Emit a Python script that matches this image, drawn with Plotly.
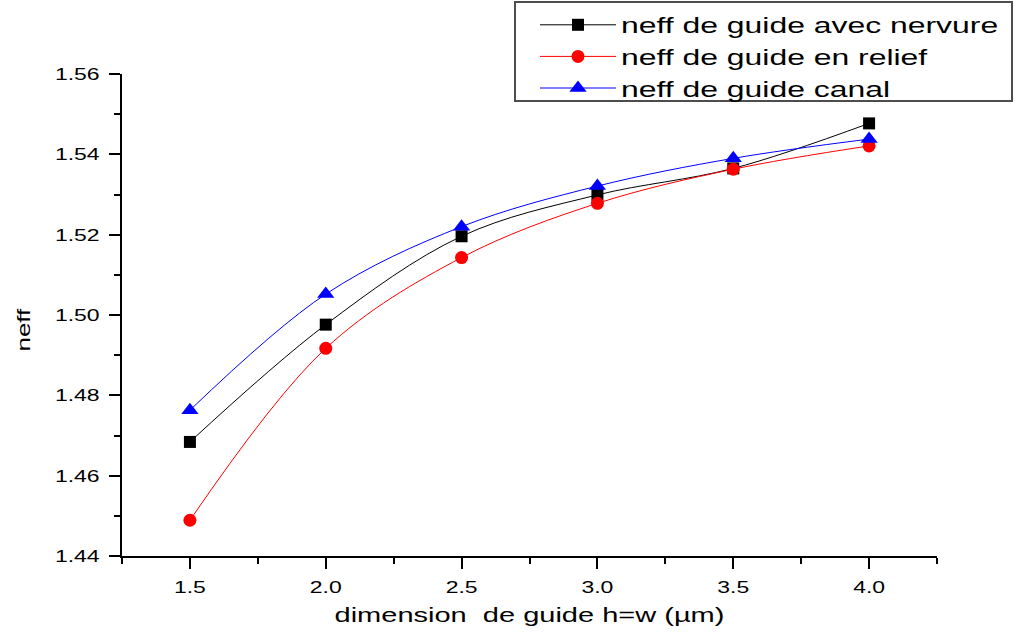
import plotly.graph_objects as go

# Guide dimension h = w (µm)
dimension = [1.5, 2.0, 2.5, 3.0, 3.5, 4.0]

# Effective index for each guide type
neff_nervure = [1.4684, 1.4976, 1.5196, 1.5299, 1.5365, 1.5477]
neff_relief = [1.4489, 1.4917, 1.5143, 1.5278, 1.5363, 1.5421]
neff_canal = [1.4763, 1.5052, 1.5220, 1.5321, 1.5390, 1.5438]

series_names = [
    "neff de guide avec nervure",
    "neff de guide en relief",
    "neff de guide canal",
]

x_ticks = [1.5, 2.0, 2.5, 3.0, 3.5, 4.0]
x_tick_labels = ["1.5", "2.0", "2.5", "3.0", "3.5", "4.0"]
y_ticks = [1.44, 1.46, 1.48, 1.50, 1.52, 1.54, 1.56]
y_tick_labels = ["1.44", "1.46", "1.48", "1.50", "1.52", "1.54", "1.56"]

FONT = "Liberation Sans, Arial, sans-serif"

# Plot area in pixels: left 122, right 937, top 74, bottom 556
W, H = 1015, 635
ML, MR, MT, MB = 122, 78, 74, 79
PW, PH = W - ML - MR, H - MT - MB


def px_to_paper_x(px):
    return (px - ML) / PW


def px_to_paper_y(py):
    return 1 - (py - MT) / PH


fig = go.Figure()

styles = [
    (neff_nervure, "black", "square", 12),
    (neff_relief, "red", "circle", 13),
    (neff_canal, "blue", "triangle-up", 15),
]

for name, (vals, color, symbol, size) in zip(series_names, styles):
    fig.add_trace(go.Scatter(
        x=dimension,
        y=vals,
        name=name,
        mode="lines+markers",
        line=dict(color=color, width=1, shape="spline", smoothing=1.0),
        marker=dict(color=color, symbol=symbol, size=size, line=dict(width=0)),
    ))

axis_common = dict(
    showgrid=False,
    zeroline=False,
    showline=True,
    linecolor="black",
    linewidth=2,
    ticks="outside",
    ticklen=11,
    tickwidth=2,
    tickcolor="black",
    tickfont=dict(family=FONT, size=17, color="black"),
    mirror=False,
)

fig.update_xaxes(
    **axis_common,
    range=[1.25, 4.25],
    tickvals=x_ticks,
    ticktext=x_tick_labels,
    ticklabelstandoff=4,
    minor=dict(ticks="outside", ticklen=6, tickwidth=2, tickcolor="black",
               tick0=1.25, dtick=0.5, showgrid=False),
    title=dict(text="dimension  de guide h=w (µm)",
               font=dict(family=FONT, size=20, color="black"), standoff=12),
)

fig.update_yaxes(
    **axis_common,
    range=[1.44, 1.56],
    tickvals=y_ticks,
    ticktext=y_tick_labels,
    ticklabelstandoff=6,
    minor=dict(ticks="outside", ticklen=6, tickwidth=2, tickcolor="black",
               tick0=1.45, dtick=0.02, showgrid=False),
)

# Y-axis title, placed a little below the middle of the axis
fig.add_annotation(
    text="neff", textangle=-90, showarrow=False,
    xref="paper", yref="paper",
    x=px_to_paper_x(24), y=px_to_paper_y(330),
    xanchor="center", yanchor="middle",
    font=dict(family=FONT, size=18, color="black"),
)

# Legend frame
fig.add_shape(
    type="rect", xref="paper", yref="paper",
    x0=px_to_paper_x(515), x1=px_to_paper_x(1012),
    y0=px_to_paper_y(101), y1=px_to_paper_y(2),
    line=dict(color="#4d4d4d", width=2), fillcolor="white", layer="below",
)

fig.update_layout(
    width=W,
    height=H,
    margin=dict(l=ML, r=MR, t=MT, b=MB, autoexpand=False),
    paper_bgcolor="white",
    plot_bgcolor="rgba(0,0,0,0)",
    font=dict(family=FONT, color="black"),
    legend=dict(
        x=px_to_paper_x(535), y=px_to_paper_y(4), xanchor="left", yanchor="top",
        bgcolor="rgba(0,0,0,0)",
        borderwidth=0,
        font=dict(family=FONT, size=22, color="black"),
        itemwidth=76,
        tracegroupgap=0,
    ),
    showlegend=True,
)

# Widen the lettering along its baseline (wide Arial-style text)
stretch_js = """
var gd = document.getElementById('{plot_id}');
function widen(sel, k) {
  gd.querySelectorAll(sel).forEach(function (t) {
    var w = t.getComputedTextLength();
    if (w > 0) {
      t.setAttribute('textLength', (w * k).toFixed(1));
      t.setAttribute('lengthAdjust', 'spacingAndGlyphs');
    }
  });
}
widen('.xtick text', 1.35);
widen('.ytick text', 1.35);
widen('.g-xtitle text', 1.45);
widen('.annotation-text', 1.44);
widen('.legendtext', 1.45);
// let the widened legend entries show in full
gd.querySelectorAll('.legend .scrollbox').forEach(function (s) {
  s.removeAttribute('clip-path');
});
gd.querySelectorAll('.legend').forEach(function (s) {
  s.style.overflow = 'visible';
});
"""

fig.write_html("out.html", post_script=stretch_js)
